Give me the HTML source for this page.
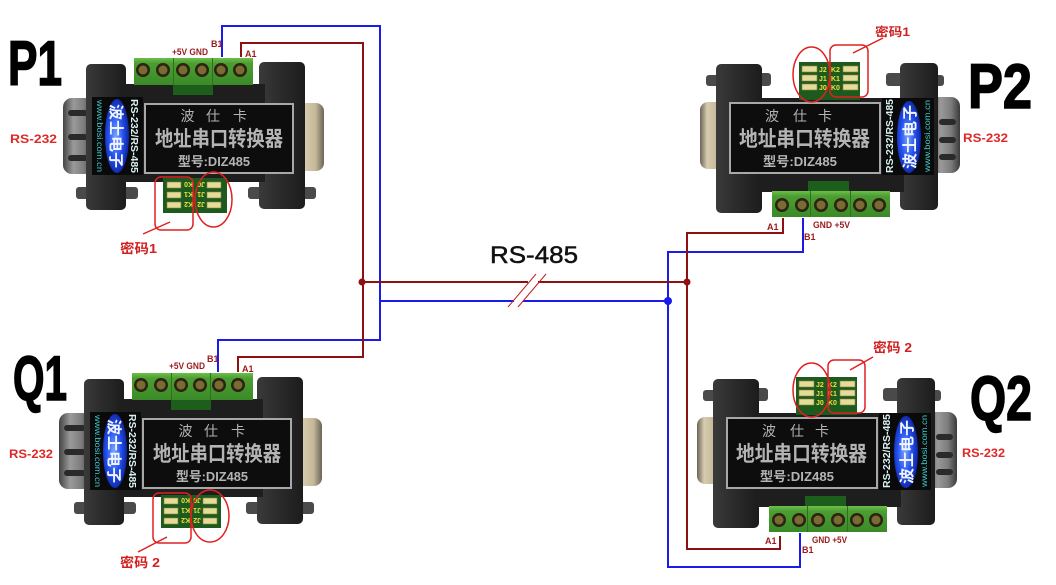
<!DOCTYPE html>
<html><head><meta charset="utf-8">
<style>
html,body{margin:0;padding:0;background:#fff;}
svg{display:block;}
text{font-family:"Liberation Sans","Noto Sans CJK SC",sans-serif;}
</style></head><body>
<svg width="1056" height="585" viewBox="0 0 1056 585" xmlns="http://www.w3.org/2000/svg">
<defs>
 <linearGradient id="metal" x1="0" y1="0" x2="1" y2="0">
  <stop offset="0" stop-color="#444"/><stop offset="0.35" stop-color="#9a9a9a"/><stop offset="0.7" stop-color="#7c7c7c"/><stop offset="1" stop-color="#3a3a3a"/>
 </linearGradient>
 <linearGradient id="tan" x1="0" y1="0" x2="1" y2="0">
  <stop offset="0" stop-color="#6a6458"/><stop offset="0.3" stop-color="#d8ccb0"/><stop offset="0.7" stop-color="#c4b898"/><stop offset="1" stop-color="#6a6458"/>
 </linearGradient>
 <linearGradient id="green" x1="0" y1="0" x2="0" y2="1">
  <stop offset="0" stop-color="#6cbf4a"/><stop offset="0.2" stop-color="#4c9e32"/><stop offset="1" stop-color="#3a8a28"/>
 </linearGradient>
 <radialGradient id="oval" cx="0.45" cy="0.5" r="0.6">
  <stop offset="0" stop-color="#7aa4ff"/><stop offset="0.5" stop-color="#2452f0"/><stop offset="1" stop-color="#0a1a90"/>
 </radialGradient>
 <linearGradient id="body" x1="0" y1="0" x2="1" y2="0">
  <stop offset="0" stop-color="#3a3a3a"/><stop offset="0.5" stop-color="#2a2a2a"/><stop offset="1" stop-color="#1c1c1c"/>
 </linearGradient>
</defs>
<rect width="1056" height="585" fill="#fff"/>

<!-- ============ TYPE A device P1 ============ -->
<g id="devP1">
 <rect x="76" y="187" width="14" height="12" rx="3" fill="#4a4a4a"/>
 <rect x="118" y="187" width="20" height="12" rx="3" fill="#4a4a4a"/>
 <rect x="248" y="187" width="18" height="12" rx="3" fill="#4a4a4a"/>
 <rect x="302" y="187" width="14" height="12" rx="3" fill="#4a4a4a"/>
 <rect x="63" y="98" width="30" height="76" rx="9" fill="url(#metal)"/>
 <rect x="68" y="110" width="20" height="6" rx="3" fill="#2a2a2a"/>
 <rect x="68" y="134" width="20" height="6" rx="3" fill="#2a2a2a"/>
 <rect x="68" y="155" width="20" height="6" rx="3" fill="#2a2a2a"/>
 <rect x="296" y="103" width="28" height="68" rx="8" fill="url(#tan)"/>
 <rect x="86" y="64" width="40" height="146" rx="5" fill="url(#body)"/>
 <rect x="259" y="62" width="46" height="147" rx="5" fill="url(#body)"/>
 <rect x="120" y="84" width="145" height="98" fill="#1e1e1e"/>
 <rect x="173" y="80" width="40" height="15" fill="#1d5e1d"/>
 <rect x="134" y="58" width="119" height="27" fill="url(#green)"/>
 <line x1="173.5" y1="58" x2="173.5" y2="85" stroke="#2f6f20"/>
 <line x1="212.5" y1="58" x2="212.5" y2="85" stroke="#2f6f20"/>
 <g fill="#2a2410">
  <circle cx="143" cy="70" r="7"/><circle cx="163" cy="70" r="7"/><circle cx="183" cy="70" r="7"/>
  <circle cx="202" cy="70" r="7"/><circle cx="221" cy="70" r="7"/><circle cx="240" cy="70" r="7"/>
 </g>
 <g fill="#7a6a34">
  <circle cx="143" cy="70" r="4.5"/><circle cx="163" cy="70" r="4.5"/><circle cx="183" cy="70" r="4.5"/>
  <circle cx="202" cy="70" r="4.5"/><circle cx="221" cy="70" r="4.5"/><circle cx="240" cy="70" r="4.5"/>
 </g>
 <rect x="145" y="104" width="148" height="69" fill="#0d0d0d" stroke="#a8a8a8" stroke-width="2"/>
 <g fill="#b4b4b4" text-anchor="middle" font-size="14">
  <text x="187.5" y="121">波</text><text x="213" y="121">仕</text><text x="240" y="121">卡</text>
 </g>
 <text x="155" y="146" font-size="21" font-weight="bold" fill="#b4b4b4" textLength="128" lengthAdjust="spacingAndGlyphs">地址串口转换器</text>
 <text x="178" y="166" font-size="13" font-weight="bold" fill="#b4b4b4" textLength="72" lengthAdjust="spacingAndGlyphs">型号:DIZ485</text>
 <rect x="92" y="97" width="51" height="78" fill="#0a0a0a"/>
 <text transform="translate(97,100) rotate(90)" font-size="8" fill="#40c8c8" textLength="72" lengthAdjust="spacingAndGlyphs">www.bosi.com.cn</text>
 <ellipse cx="117" cy="136" rx="12" ry="37" fill="url(#oval)"/>
 <text transform="translate(111,104) rotate(90)" font-size="15" font-weight="bold" fill="#f0f4ff" textLength="64" lengthAdjust="spacingAndGlyphs">波士电子</text>
 <text transform="translate(131,99) rotate(90)" font-size="10" font-weight="bold" fill="#d8f0f0" textLength="74" lengthAdjust="spacingAndGlyphs">RS-232/RS-485</text>
 <rect x="163" y="178" width="64" height="35" fill="#1d5a1d"/>
 <g fill="#e5dc9a" stroke="#8a8040" stroke-width="0.6">
  <rect x="167" y="182" width="14" height="6"/><rect x="167" y="192" width="14" height="6"/><rect x="167" y="202" width="14" height="6"/>
  <rect x="207" y="182" width="14" height="6"/><rect x="207" y="192" width="14" height="6"/><rect x="207" y="202" width="14" height="6"/>
 </g>
 <g fill="#f0e040" font-size="7" font-weight="bold">
  <text transform="translate(193,182) rotate(180)">K0</text><text transform="translate(193,192) rotate(180)">K1</text><text transform="translate(193,202) rotate(180)">K2</text>
  <text transform="translate(205,182) rotate(180)">J0</text><text transform="translate(205,192) rotate(180)">J1</text><text transform="translate(205,202) rotate(180)">J2</text>
 </g>
</g>

<!-- ============ TYPE A device Q1 ============ -->
<g transform="translate(-2,315)">
 <rect x="76" y="187" width="14" height="12" rx="3" fill="#4a4a4a"/>
 <rect x="118" y="187" width="20" height="12" rx="3" fill="#4a4a4a"/>
 <rect x="248" y="187" width="18" height="12" rx="3" fill="#4a4a4a"/>
 <rect x="302" y="187" width="14" height="12" rx="3" fill="#4a4a4a"/>
 <rect x="61" y="98" width="32" height="76" rx="9" fill="url(#metal)"/>
 <rect x="66" y="110" width="22" height="6" rx="3" fill="#2a2a2a"/>
 <rect x="66" y="134" width="22" height="6" rx="3" fill="#2a2a2a"/>
 <rect x="66" y="155" width="22" height="6" rx="3" fill="#2a2a2a"/>
 <rect x="296" y="103" width="28" height="68" rx="8" fill="url(#tan)"/>
 <rect x="86" y="64" width="40" height="146" rx="5" fill="url(#body)"/>
 <rect x="259" y="62" width="46" height="147" rx="5" fill="url(#body)"/>
 <rect x="120" y="84" width="145" height="98" fill="#1e1e1e"/>
 <rect x="173" y="80" width="40" height="15" fill="#1d5e1d"/>
 <rect x="134" y="58" width="121" height="27" fill="url(#green)"/>
 <line x1="173.5" y1="58" x2="173.5" y2="85" stroke="#2f6f20"/>
 <line x1="212.5" y1="58" x2="212.5" y2="85" stroke="#2f6f20"/>
 <g fill="#2a2410">
  <circle cx="143" cy="70" r="7"/><circle cx="163" cy="70" r="7"/><circle cx="183" cy="70" r="7"/>
  <circle cx="202" cy="70" r="7"/><circle cx="221" cy="70" r="7"/><circle cx="240" cy="70" r="7"/>
 </g>
 <g fill="#7a6a34">
  <circle cx="143" cy="70" r="4.5"/><circle cx="163" cy="70" r="4.5"/><circle cx="183" cy="70" r="4.5"/>
  <circle cx="202" cy="70" r="4.5"/><circle cx="221" cy="70" r="4.5"/><circle cx="240" cy="70" r="4.5"/>
 </g>
 <rect x="145" y="104" width="148" height="69" fill="#0d0d0d" stroke="#a8a8a8" stroke-width="2"/>
 <g fill="#b4b4b4" text-anchor="middle" font-size="14">
  <text x="187.5" y="121">波</text><text x="213" y="121">仕</text><text x="240" y="121">卡</text>
 </g>
 <text x="155" y="146" font-size="21" font-weight="bold" fill="#b4b4b4" textLength="128" lengthAdjust="spacingAndGlyphs">地址串口转换器</text>
 <text x="178" y="166" font-size="13" font-weight="bold" fill="#b4b4b4" textLength="72" lengthAdjust="spacingAndGlyphs">型号:DIZ485</text>
 <rect x="92" y="97" width="51" height="78" fill="#0a0a0a"/>
 <text transform="translate(97,100) rotate(90)" font-size="8" fill="#40c8c8" textLength="72" lengthAdjust="spacingAndGlyphs">www.bosi.com.cn</text>
 <ellipse cx="117" cy="136" rx="12" ry="37" fill="url(#oval)"/>
 <text transform="translate(111,104) rotate(90)" font-size="15" font-weight="bold" fill="#f0f4ff" textLength="64" lengthAdjust="spacingAndGlyphs">波士电子</text>
 <text transform="translate(131,99) rotate(90)" font-size="10" font-weight="bold" fill="#d8f0f0" textLength="74" lengthAdjust="spacingAndGlyphs">RS-232/RS-485</text>
 <rect x="163" y="180" width="60" height="33" fill="#1d5a1d"/>
 <g fill="#e5dc9a" stroke="#8a8040" stroke-width="0.6">
  <rect x="166" y="183" width="14" height="6"/><rect x="166" y="193" width="14" height="6"/><rect x="166" y="203" width="14" height="6"/>
  <rect x="205" y="183" width="14" height="6"/><rect x="205" y="193" width="14" height="6"/><rect x="205" y="203" width="14" height="6"/>
 </g>
 <g fill="#f0e040" font-size="7" font-weight="bold">
  <text transform="translate(192,183) rotate(180)">K0</text><text transform="translate(192,193) rotate(180)">K1</text><text transform="translate(192,203) rotate(180)">K2</text>
  <text transform="translate(203,183) rotate(180)">J0</text><text transform="translate(203,193) rotate(180)">J1</text><text transform="translate(203,203) rotate(180)">J2</text>
 </g>
</g>

<!-- ============ TYPE B device P2 ============ -->
<g id="devP2">
 <rect x="706" y="75" width="14" height="11" rx="3" fill="#4a4a4a"/>
 <rect x="756" y="73" width="15" height="13" rx="3" fill="#4a4a4a"/>
 <rect x="886" y="73" width="18" height="13" rx="3" fill="#4a4a4a"/>
 <rect x="934" y="75" width="10" height="11" rx="3" fill="#4a4a4a"/>
 <rect x="700" y="102" width="24" height="67" rx="8" fill="url(#tan)"/>
 <rect x="930" y="97" width="30" height="76" rx="9" fill="url(#metal)"/>
 <rect x="939" y="119" width="17" height="6" rx="3" fill="#2a2a2a"/>
 <rect x="939" y="137" width="17" height="6" rx="3" fill="#2a2a2a"/>
 <rect x="939" y="154" width="17" height="6" rx="3" fill="#2a2a2a"/>
 <rect x="716" y="64" width="46" height="149" rx="5" fill="url(#body)"/>
 <rect x="900" y="63" width="38" height="147" rx="5" fill="url(#body)"/>
 <rect x="758" y="98" width="146" height="94" fill="#1e1e1e"/>
 <rect x="808" y="181" width="41" height="12" fill="#1d5e1d"/>
 <rect x="772" y="191" width="118" height="26" fill="url(#green)"/>
 <line x1="810.5" y1="191" x2="810.5" y2="217" stroke="#2f6f20"/>
 <line x1="850.5" y1="191" x2="850.5" y2="217" stroke="#2f6f20"/>
 <g fill="#2a2410">
  <circle cx="782" cy="205" r="7"/><circle cx="802" cy="205" r="7"/><circle cx="821" cy="205" r="7"/>
  <circle cx="841" cy="205" r="7"/><circle cx="860" cy="205" r="7"/><circle cx="879" cy="205" r="7"/>
 </g>
 <g fill="#7a6a34">
  <circle cx="782" cy="205" r="4.5"/><circle cx="802" cy="205" r="4.5"/><circle cx="821" cy="205" r="4.5"/>
  <circle cx="841" cy="205" r="4.5"/><circle cx="860" cy="205" r="4.5"/><circle cx="879" cy="205" r="4.5"/>
 </g>
 <rect x="730" y="103" width="150" height="70" fill="#0d0d0d" stroke="#a8a8a8" stroke-width="2"/>
 <g fill="#b4b4b4" text-anchor="middle" font-size="14">
  <text x="772" y="121">波</text><text x="800" y="121">仕</text><text x="825" y="121">卡</text>
 </g>
 <text x="739" y="146" font-size="21" font-weight="bold" fill="#b4b4b4" textLength="131" lengthAdjust="spacingAndGlyphs">地址串口转换器</text>
 <text x="763" y="166" font-size="13" font-weight="bold" fill="#b4b4b4" textLength="74" lengthAdjust="spacingAndGlyphs">型号:DIZ485</text>
 <rect x="882" y="98" width="52" height="77" fill="#0a0a0a"/>
 <text transform="translate(893,173) rotate(-90)" font-size="10" font-weight="bold" fill="#d8f0f0" textLength="74" lengthAdjust="spacingAndGlyphs">RS-232/RS-485</text>
 <ellipse cx="909" cy="137" rx="12" ry="36" fill="url(#oval)"/>
 <text transform="translate(915,169) rotate(-90)" font-size="15" font-weight="bold" fill="#f0f4ff" textLength="64" lengthAdjust="spacingAndGlyphs">波士电子</text>
 <text transform="translate(930,172) rotate(-90)" font-size="8" fill="#40c8c8" textLength="72" lengthAdjust="spacingAndGlyphs">www.bosi.com.cn</text>
 <rect x="799" y="62" width="61" height="38" fill="#1d5a1d"/>
 <g fill="#e5dc9a" stroke="#8a8040" stroke-width="0.6">
  <rect x="802" y="66" width="15" height="6"/><rect x="802" y="75" width="15" height="6"/><rect x="802" y="84" width="15" height="6"/>
  <rect x="843" y="66" width="15" height="6"/><rect x="843" y="75" width="15" height="6"/><rect x="843" y="84" width="15" height="6"/>
 </g>
 <g fill="#f0e040" font-size="7" font-weight="bold">
  <text x="819" y="72">J2</text><text x="819" y="81">J1</text><text x="819" y="90">J0</text>
  <text x="831" y="72">K2</text><text x="831" y="81">K1</text><text x="831" y="90">K0</text>
 </g>
</g>

<!-- ============ TYPE B device Q2 ============ -->
<g transform="translate(-3,315)">
 <rect x="706" y="75" width="14" height="11" rx="3" fill="#4a4a4a"/>
 <rect x="756" y="73" width="15" height="13" rx="3" fill="#4a4a4a"/>
 <rect x="886" y="73" width="18" height="13" rx="3" fill="#4a4a4a"/>
 <rect x="934" y="75" width="10" height="11" rx="3" fill="#4a4a4a"/>
 <rect x="700" y="102" width="24" height="67" rx="8" fill="url(#tan)"/>
 <rect x="930" y="97" width="30" height="76" rx="9" fill="url(#metal)"/>
 <rect x="939" y="119" width="17" height="6" rx="3" fill="#2a2a2a"/>
 <rect x="939" y="137" width="17" height="6" rx="3" fill="#2a2a2a"/>
 <rect x="939" y="154" width="17" height="6" rx="3" fill="#2a2a2a"/>
 <rect x="716" y="64" width="46" height="149" rx="5" fill="url(#body)"/>
 <rect x="900" y="63" width="38" height="147" rx="5" fill="url(#body)"/>
 <rect x="758" y="98" width="146" height="94" fill="#1e1e1e"/>
 <rect x="808" y="181" width="41" height="12" fill="#1d5e1d"/>
 <rect x="772" y="191" width="118" height="26" fill="url(#green)"/>
 <line x1="810.5" y1="191" x2="810.5" y2="217" stroke="#2f6f20"/>
 <line x1="850.5" y1="191" x2="850.5" y2="217" stroke="#2f6f20"/>
 <g fill="#2a2410">
  <circle cx="782" cy="205" r="7"/><circle cx="802" cy="205" r="7"/><circle cx="821" cy="205" r="7"/>
  <circle cx="841" cy="205" r="7"/><circle cx="860" cy="205" r="7"/><circle cx="879" cy="205" r="7"/>
 </g>
 <g fill="#7a6a34">
  <circle cx="782" cy="205" r="4.5"/><circle cx="802" cy="205" r="4.5"/><circle cx="821" cy="205" r="4.5"/>
  <circle cx="841" cy="205" r="4.5"/><circle cx="860" cy="205" r="4.5"/><circle cx="879" cy="205" r="4.5"/>
 </g>
 <rect x="730" y="103" width="150" height="70" fill="#0d0d0d" stroke="#a8a8a8" stroke-width="2"/>
 <g fill="#b4b4b4" text-anchor="middle" font-size="14">
  <text x="772" y="121">波</text><text x="800" y="121">仕</text><text x="825" y="121">卡</text>
 </g>
 <text x="739" y="146" font-size="21" font-weight="bold" fill="#b4b4b4" textLength="131" lengthAdjust="spacingAndGlyphs">地址串口转换器</text>
 <text x="763" y="166" font-size="13" font-weight="bold" fill="#b4b4b4" textLength="74" lengthAdjust="spacingAndGlyphs">型号:DIZ485</text>
 <rect x="882" y="98" width="52" height="77" fill="#0a0a0a"/>
 <text transform="translate(893,173) rotate(-90)" font-size="10" font-weight="bold" fill="#d8f0f0" textLength="74" lengthAdjust="spacingAndGlyphs">RS-232/RS-485</text>
 <ellipse cx="909" cy="137" rx="12" ry="36" fill="url(#oval)"/>
 <text transform="translate(915,169) rotate(-90)" font-size="15" font-weight="bold" fill="#f0f4ff" textLength="64" lengthAdjust="spacingAndGlyphs">波士电子</text>
 <text transform="translate(930,172) rotate(-90)" font-size="8" fill="#40c8c8" textLength="72" lengthAdjust="spacingAndGlyphs">www.bosi.com.cn</text>
 <rect x="799" y="62" width="61" height="38" fill="#1d5a1d"/>
 <g fill="#e5dc9a" stroke="#8a8040" stroke-width="0.6">
  <rect x="802" y="66" width="15" height="6"/><rect x="802" y="75" width="15" height="6"/><rect x="802" y="84" width="15" height="6"/>
  <rect x="843" y="66" width="15" height="6"/><rect x="843" y="75" width="15" height="6"/><rect x="843" y="84" width="15" height="6"/>
 </g>
 <g fill="#f0e040" font-size="7" font-weight="bold">
  <text x="819" y="72">J2</text><text x="819" y="81">J1</text><text x="819" y="90">J0</text>
  <text x="831" y="72">K2</text><text x="831" y="81">K1</text><text x="831" y="90">K0</text>
 </g>
</g>

<!-- ============ Wires ============ -->
<g fill="none" stroke-width="2" stroke-linejoin="miter">
 <path d="M222,57 V26 H380 V340 H218 V372" stroke="#1a1aee"/>
 <path d="M380,301 H514 M523,301 H668" stroke="#1a1aee"/>
 <path d="M803,218 V252 H668 V567 H800 V533" stroke="#1a1aee"/>
 <path d="M241,57 V43 H363 V357 H238 V372" stroke="#8e1010"/>
 <path d="M362,282 H528 M538,282 H687" stroke="#8e1010"/>
 <path d="M783,218 V233 H687 V549 H780 V536" stroke="#8e1010"/>
</g>
<circle cx="362" cy="282" r="3.5" fill="#8e1010"/>
<circle cx="687" cy="282" r="3.5" fill="#8e1010"/>
<circle cx="668" cy="301" r="4" fill="#1a1aee"/>
<line x1="508" y1="307" x2="536" y2="274" stroke="#c02020" stroke-width="1"/>
<line x1="518" y1="307" x2="546" y2="274" stroke="#c02020" stroke-width="1"/>
<text x="490" y="263" font-size="24" fill="#111" stroke="#111" stroke-width="0.5" textLength="88" lengthAdjust="spacingAndGlyphs">RS-485</text>

<!-- wire labels -->
<g fill="#9a1a1a" font-size="9" font-weight="bold">
 <text x="172" y="55" textLength="36" lengthAdjust="spacingAndGlyphs">+5V GND</text>
 <text x="211" y="47">B1</text>
 <text x="245" y="57">A1</text>
 <text x="169" y="369" textLength="36" lengthAdjust="spacingAndGlyphs">+5V GND</text>
 <text x="207" y="362">B1</text>
 <text x="242" y="372">A1</text>
 <text x="767" y="230">A1</text>
 <text x="813" y="228" textLength="37" lengthAdjust="spacingAndGlyphs">GND +5V</text>
 <text x="804" y="240">B1</text>
 <text x="765" y="544">A1</text>
 <text x="812" y="543" textLength="35" lengthAdjust="spacingAndGlyphs">GND +5V</text>
 <text x="802" y="553">B1</text>
</g>

<!-- big labels -->
<g fill="#000" stroke="#000" stroke-width="1.6" font-size="63" font-weight="bold">
 <text x="8" y="85" textLength="54" lengthAdjust="spacingAndGlyphs">P1</text>
 <text x="13" y="400" textLength="54" lengthAdjust="spacingAndGlyphs">Q1</text>
 <text x="968" y="108" textLength="64" lengthAdjust="spacingAndGlyphs">P2</text>
 <text x="970" y="420" textLength="62" lengthAdjust="spacingAndGlyphs">Q2</text>
</g>

<!-- RS-232 labels -->
<g fill="#e02828" font-size="12" font-weight="bold">
 <text x="10" y="143" textLength="47" lengthAdjust="spacingAndGlyphs">RS-232</text>
 <text x="9" y="458" textLength="44" lengthAdjust="spacingAndGlyphs">RS-232</text>
 <text x="963" y="142" textLength="45" lengthAdjust="spacingAndGlyphs">RS-232</text>
 <text x="962" y="457" textLength="43" lengthAdjust="spacingAndGlyphs">RS-232</text>
</g>

<!-- red annotations -->
<g fill="none" stroke="#e02020" stroke-width="1.5">
 <rect x="155" y="177" width="38" height="53" rx="6"/>
 <ellipse cx="213.5" cy="199.5" rx="18.5" ry="27.5"/>
 <line x1="143" y1="234" x2="170" y2="222"/>
 <rect x="153" y="493" width="38" height="50" rx="6"/>
 <ellipse cx="210" cy="516" rx="19" ry="26"/>
 <line x1="138" y1="552" x2="167" y2="537"/>
 <ellipse cx="811.5" cy="74.5" rx="18.5" ry="27.5"/>
 <rect x="830" y="45" width="38" height="52" rx="6"/>
 <line x1="853" y1="53" x2="883" y2="38"/>
 <ellipse cx="811.5" cy="390" rx="18.5" ry="27"/>
 <rect x="828" y="360" width="37" height="53" rx="6"/>
 <line x1="850" y1="370" x2="873" y2="357"/>
</g>
<g fill="#d02020" font-weight="bold">
 <text x="120" y="253" font-size="13" textLength="37" lengthAdjust="spacingAndGlyphs">密码1</text>
 <text x="120" y="567" font-size="13" textLength="40" lengthAdjust="spacingAndGlyphs">密码 2</text>
 <text x="875" y="36" font-size="12" textLength="35" lengthAdjust="spacingAndGlyphs">密码1</text>
 <text x="873" y="352" font-size="13" textLength="39" lengthAdjust="spacingAndGlyphs">密码 2</text>
</g>
</svg>
</body></html>
